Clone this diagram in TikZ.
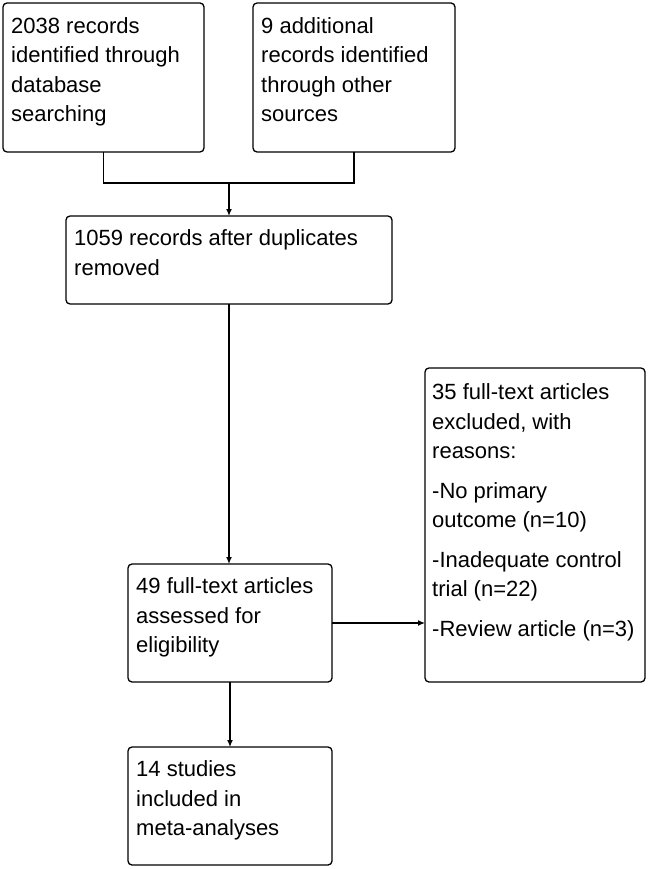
\documentclass[tikz,border=0pt]{standalone}
\usepackage{fontspec}
\setmainfont{Liberation Sans}
\usetikzlibrary{arrows.meta}
\tikzset{
  box/.style={draw, line width=1.3pt, rounded corners=4pt, inner sep=0pt, outer sep=0pt, anchor=north west},
  txt/.style={anchor=north west, inner sep=0pt, align=left, font=\fontsize{22}{29.5}\selectfont},
  link/.style={line width=1.3pt},
  arr/.style={line width=1.3pt, -{Latex[length=7pt,width=6pt]}}
}
\begin{document}
\begin{tikzpicture}[x=1pt,y=-1pt]
\useasboundingbox (0,0) rectangle (649,869);
% boxes
\node[box, minimum width=201pt, minimum height=149pt] (b1) at (3,3) {};
\node[box, minimum width=202pt, minimum height=149pt] (b2) at (253,3) {};
\node[box, minimum width=326pt, minimum height=88pt] (b3) at (66,216) {};
\node[box, minimum width=204pt, minimum height=118pt] (b4) at (128,564) {};
\node[box, minimum width=204pt, minimum height=118pt] (b5) at (128,747) {};
\node[box, minimum width=220pt, minimum height=314pt] (b6) at (425,368) {};
% texts
\node[txt] (t1) at (11,12.3) {\strut 2038 records\\identified through\\database\\searching};
\node[txt] (t2) at (261,12.3) {\strut 9 additional\\records identified\\through other\\sources};
\node[txt] (t3) at (74,225) {\strut 1059 records after duplicates\\removed};
\node[txt] (t4) at (136,573) {\strut 49 full-text articles\\assessed for\\eligibility};
\node[txt] (t5) at (136,756) {\strut 14 studies\\included in\\meta-analyses};
\node[txt] (t6) at (432,379) {\strut 35 full-text articles\\excluded, with\\reasons:\\[10pt]-No primary\\outcome (n=10)\\[10pt]-Inadequate control\\trial (n=22)\\[10pt]-Review article (n=3)};
% connectors
\path (b3.north) ++(0,-33) coordinate (j);
\draw[link] (b1.south) |- (j) -| (b2.south);
\draw[arr] (j) -- (b3.north);
\draw[arr] (b3.south) -- (b3.south |- b4.north);
\draw[arr] (b4.east) -- (b4.east -| b6.west);
\draw[arr] (b4.south) -- (b5.north);
\end{tikzpicture}
\end{document}
